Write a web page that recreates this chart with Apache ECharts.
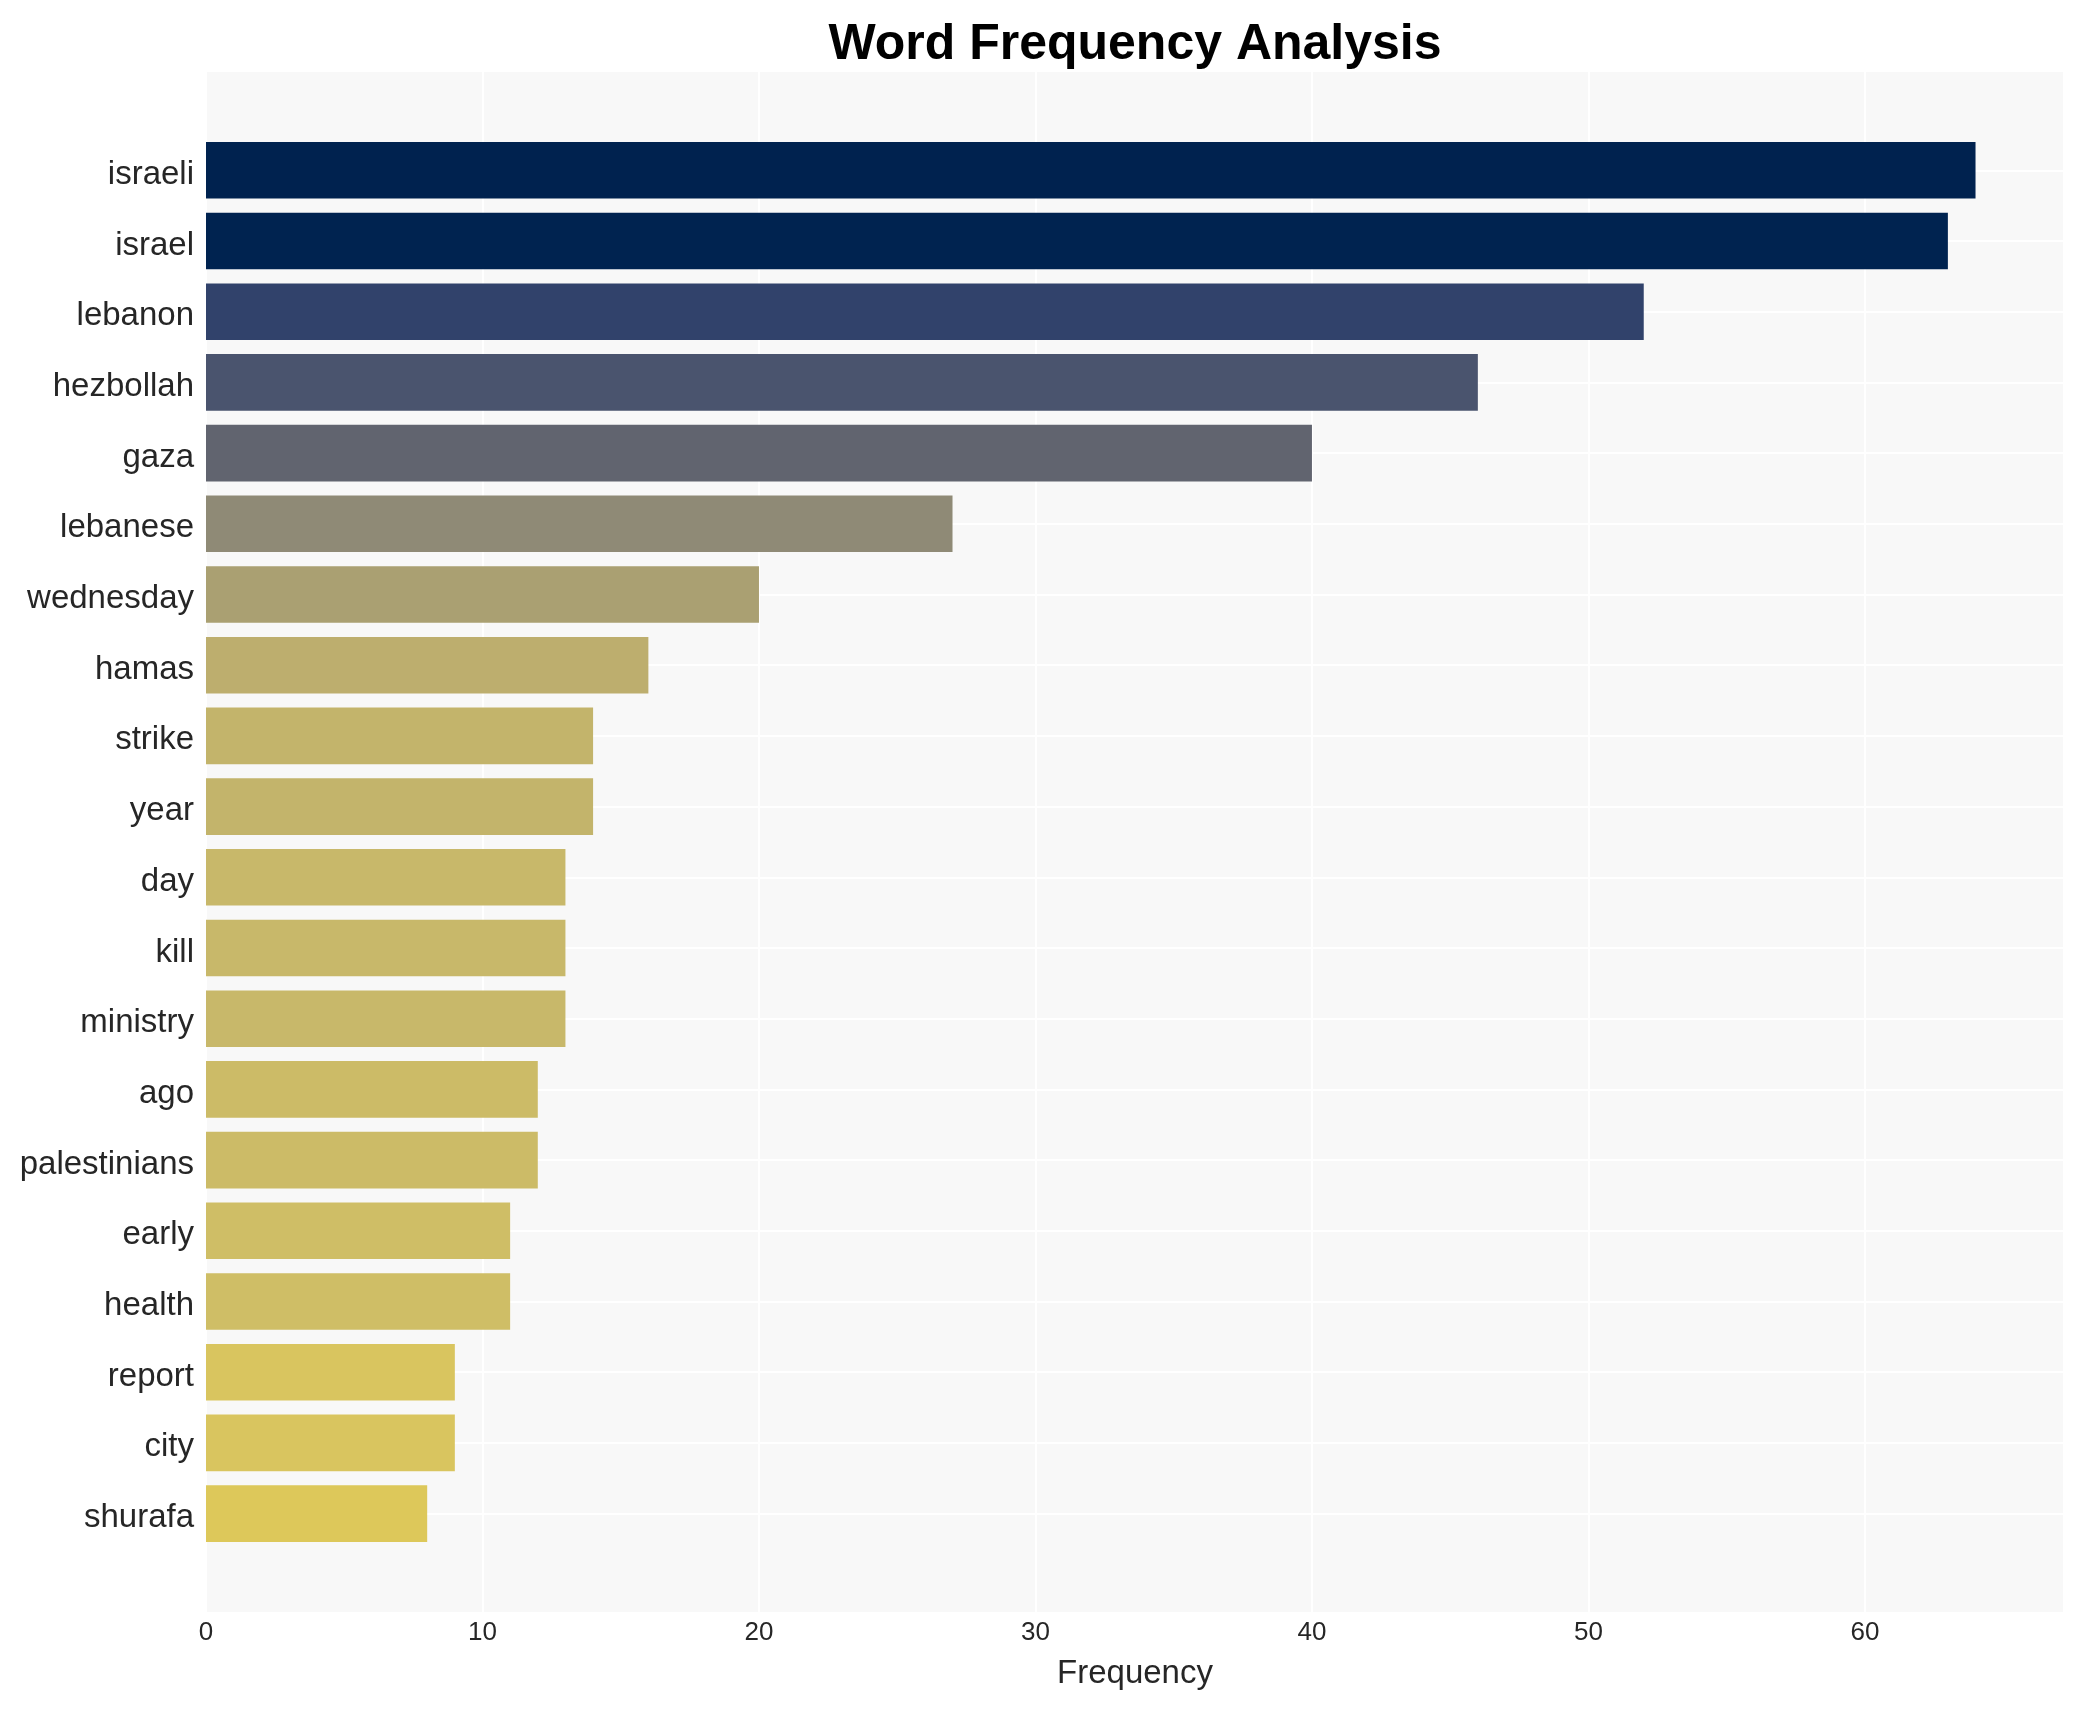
<!DOCTYPE html>
<html>
<head>
<meta charset="utf-8">
<script src="https://cdn.jsdelivr.net/npm/echarts@6/dist/echarts.min.js"></script>
<style>
  html, body { margin: 0; padding: 0; background: #ffffff; }
  #chart { width: 2085px; height: 1710px; }
</style>
</head>
<body>
<div id="chart"></div>
<script>
const words = ['israeli', 'israel', 'lebanon', 'hezbollah', 'gaza', 'lebanese', 'wednesday', 'hamas', 'strike', 'year', 'day', 'kill', 'ministry', 'ago', 'palestinians', 'early', 'health', 'report', 'city', 'shurafa'];
const frequencies = [64, 63, 52, 46, 40, 27, 20, 16, 14, 14, 13, 13, 13, 12, 12, 11, 11, 9, 9, 8];
const barColors = ['#00224f', '#002350', '#31426b', '#4a546e', '#61646f', '#8f8a76', '#aaa072', '#bdae6e', '#c3b46b', '#c3b46b', '#c8b86a', '#c8b86a', '#c8b86a', '#ccbb67', '#ccbb67', '#cfbe66', '#cfbe66', '#d9c55f', '#d9c55f', '#ddc85a'];
const xTicks = [0, 10, 20, 30, 40, 50, 60];
const xMax = 67.2;

const chart = echarts.init(document.getElementById('chart'), null, { renderer: 'canvas' });
const font = 'Liberation Sans, Arial, Helvetica, sans-serif';

chart.setOption({
  backgroundColor: '#ffffff',
  animation: false,
  title: {
    text: 'Word Frequency Analysis',
    left: 1130,
    top: 15,
    textAlign: 'center',
    textStyle: { fontFamily: font, fontSize: 50, fontWeight: 'bold', color: '#000000' }
  },
  grid: [
    { left: 206, right: 21, top: 72, bottom: 98, show: true, backgroundColor: '#f8f8f8', borderWidth: 0, containLabel: false },
    { left: 206, right: 21, top: 170.3, bottom: 196.4, containLabel: false }
  ],
  xAxis: [
    {
      type: 'value', gridIndex: 0, min: 0, max: xMax, interval: 10,
      name: 'Frequency', nameLocation: 'middle', nameGap: 45,
      nameTextStyle: { fontFamily: font, fontSize: 33, color: '#262626' },
      axisLine: { show: false }, axisTick: { show: false },
      axisLabel: {
        fontFamily: font, fontSize: 26, color: '#262626', margin: 8, showMaxLabel: false,
        formatter: v => (xTicks.indexOf(v) >= 0 ? String(v) : '')
      },
      splitLine: { show: true, lineStyle: { color: '#ffffff', width: 2 } }
    },
    {
      type: 'value', gridIndex: 1, min: 0, max: xMax, show: false,
      splitLine: { show: false }
    }
  ],
  yAxis: [
    { type: 'value', gridIndex: 0, show: false, splitLine: { show: false } },
    {
      type: 'category', gridIndex: 1, data: words, inverse: true, boundaryGap: false,
      axisLine: { show: false }, axisTick: { show: false },
      axisLabel: {
        margin: 12,
        formatter: '{w|{value}}',
        rich: { w: { fontFamily: font, fontSize: 33, color: '#262626', padding: [9, 0, 0, 0] } }
      },
      splitLine: { show: true, lineStyle: { color: '#ffffff', width: 2 } }
    }
  ],
  series: [
    {
      type: 'bar', xAxisIndex: 1, yAxisIndex: 1, clip: false,
      barCategoryGap: '20%',
      data: frequencies.map((v, i) => ({ value: v, itemStyle: { color: barColors[i] } })),
      z: 3
    }
  ]
});
</script>
</body>
</html>
